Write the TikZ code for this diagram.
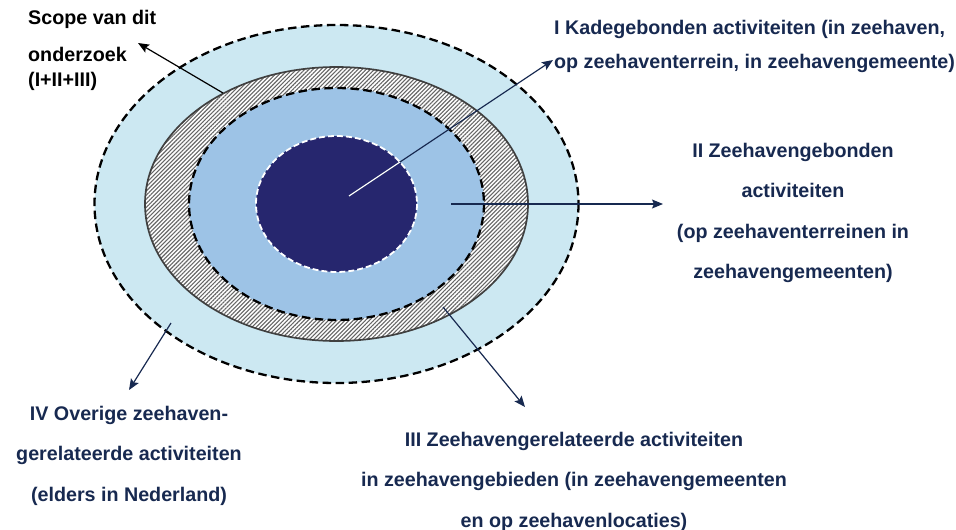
\documentclass[tikz,border=0pt]{standalone}
\usepackage{fontspec}
\setmainfont{Liberation Sans}
\usetikzlibrary{arrows.meta, patterns.meta}
\definecolor{ringlight}{RGB}{204,232,242}
\definecolor{ringmid}{RGB}{157,195,230}
\definecolor{ringdark}{RGB}{38,38,110}
\definecolor{navy}{RGB}{23,41,80}
\begin{document}
\begin{tikzpicture}[
    x=1pt, y=-1pt,
    lbl/.style={inner sep=0pt, text=navy, font=\fontsize{19.7}{40.5}\selectfont\bfseries},
    arrow/.style={-{Stealth[length=11pt, width=9pt, inset=2pt]}, line width=1.2pt, draw=navy},
    ringline/.style={line width=2.3pt, dash pattern=on 8.5pt off 4.5pt}
]
    \useasboundingbox (0,0) rectangle (956,530);
    \coordinate (ctr) at (336.5,204);

    \draw[ringline, fill=ringlight] (ctr) ellipse [x radius=242, y radius=179];
    \draw[draw=black!75, line width=1.7pt, preaction={fill=white},
        pattern={Lines[angle=45, distance=2.9pt, line width=1.1pt]}, pattern color=black!60]
        (ctr) ellipse [x radius=191.5, y radius=137];
    \draw[ringline, fill=ringmid] (ctr) ellipse [x radius=147.5, y radius=116];
    \draw[draw=white, line width=1.8pt, dash pattern=on 6pt off 3pt, fill=ringdark]
        (ctr) ellipse [x radius=80.5, y radius=68];

    \node[lbl, text=black, anchor=north west, align=left, font=\fontsize{19.7}{25}\selectfont\bfseries]
        (scopelbl) at (28,10) {Scope van dit\\[12pt]onderzoek\\(I+II+III)};
    \node[lbl, anchor=north west, align=left, font=\fontsize{19.7}{34.5}\selectfont\bfseries]
        (kadelbl) at (554,20) {I Kadegebonden activiteiten (in zeehaven,\\op zeehaventerrein, in zeehavengemeente)};
    \node[lbl, anchor=north, align=center] (bondlbl) at (793,143)
        {II Zeehavengebonden\\activiteiten\\(op zeehaventerreinen in\\zeehavengemeenten)};
    \node[lbl, anchor=north, align=center] (rellbl) at (574,432)
        {III Zeehavengerelateerde activiteiten\\in zeehavengebieden (in zeehavengemeenten\\en op zeehavenlocaties)};
    \node[lbl, anchor=north, align=center] (overiglbl) at (129,406)
        {IV Overige zeehaven-\\gerelateerde activiteiten\\(elders in Nederland)};

    \coordinate (scopestart) at (223,93);
    \coordinate (scopetip) at (138,43);
    \coordinate (kadestart) at (349,196);
    \coordinate (kadetip) at (553,60);
    \coordinate (bondstart) at (451,204);
    \coordinate (bondtip) at (663,204);
    \coordinate (relstart) at (443,307);
    \coordinate (reltip) at (525,407);
    \coordinate (overigstart) at (171,323);
    \coordinate (overigtip) at (129,390);

    \draw[arrow, draw=black] (scopestart) -- (scopetip);
    \draw[arrow] (kadestart) -- (kadetip);
    \begin{scope}
        \clip (ctr) ellipse [x radius=80.5, y radius=68];
        \draw[white, line width=1.2pt] (kadestart) -- (kadetip);
    \end{scope}
    \draw[arrow] (bondstart) -- (bondtip);
    \draw[arrow] (relstart) -- (reltip);
    \draw[arrow] (overigstart) -- (overigtip);
\end{tikzpicture}
\end{document}
